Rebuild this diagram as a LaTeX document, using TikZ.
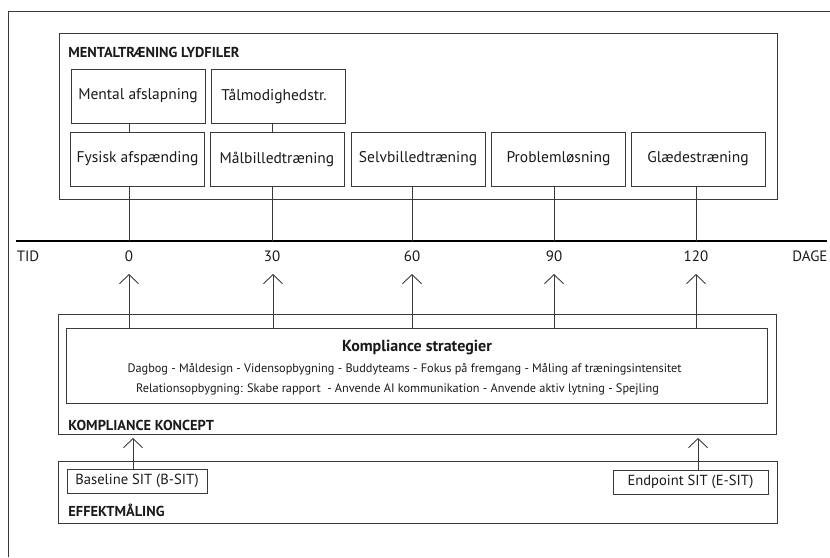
\documentclass[tikz,border=0pt]{standalone}
\usepackage{fontspec}
\setmainfont{PT Sans}
\usetikzlibrary{arrows.meta}

\definecolor{linegray}{HTML}{3A3A3A}
\definecolor{textgray}{HTML}{1A1A1A}

\def \boxW{134}
\def \boxH{54}
\def \rowAY{96}
\def \rowBY{159}
\def \timeY{241}
\def \labelY{256}
\def \arrowTopY{274}
\def \dayAX{129}
\def \dayBX{272}
\def \dayCX{412}
\def \dayDX{554}
\def \dayEX{696}

\begin{document}
\begin{tikzpicture}[x=1pt, y=-1pt, line width=0.9pt, draw=linegray, text=textgray,
  trainbox/.style={draw=linegray, minimum width=\boxW, minimum height=\boxH, inner sep=0pt, font=\fontsize{15.5}{17}\selectfont},
  frame/.style={draw=linegray, inner sep=0pt},
  heading/.style={anchor=west, inner sep=0pt, font=\bfseries\fontsize{14.4}{16}\selectfont},
  sitbox/.style={draw=linegray, inner sep=0pt, minimum height=24, font=\fontsize{14.6}{16}\selectfont},
  daylabel/.style={inner sep=0pt, font=\fontsize{15}{17}\selectfont},
  uparrow/.style={-{Straight Barb[length=9pt, width=19pt]}}]
\useasboundingbox (0,0) rectangle (830,557);
% ---- outer frame
\coordinate (frameTL) at (8,11);
\draw (8,557) -- (frameTL) -- (830,11);

% ---- Mentaltraening frame
\node[frame, minimum width=718, minimum height=166] (mentalframe) at (418,116) {};
\node[heading] (mentalhead) at (68,52) {MENTALTRÆNING LYDFILER};
% ---- upper row
\node[trainbox] (mental) at (138,\rowAY) {Mental afslapning};
\node[trainbox] (taalmod) at (278,\rowAY) {\hspace*{-8pt}Tålmodighedstr.};
% ---- lower row
\node[trainbox] (fysisk) at (137.5,\rowBY) {Fysisk afspænding};
\node[trainbox] (maal) at (277,\rowBY) {Målbilledtræning};
\node[trainbox] (selv) at (418,\rowBY) {Selvbilledtræning};
\node[trainbox] (problem) at (558.5,\rowBY) {Problemløsning};
\node[trainbox] (glaede) at (698,\rowBY) {Glædestræning};

% ---- time line
\coordinate (timeL) at (16,\timeY);
\coordinate (timeR) at (827,\timeY);
\draw[line width=2.8pt, draw=black] (timeL) -- (timeR);
\node[daylabel] (tid) at (28,\labelY) {TID};
\node[daylabel, anchor=west] (dage) at (792,\labelY) {DAGE};
\node[daylabel] (day0) at (\dayAX,\labelY) {0};
\node[daylabel] (day30) at (\dayBX,\labelY) {30};
\node[daylabel] (day60) at (\dayCX,\labelY) {60};
\node[daylabel] (day90) at (\dayDX,\labelY) {90};
\node[daylabel] (day120) at (\dayEX,\labelY) {120};
\coordinate (tick0) at (\dayAX,\timeY);
\coordinate (tick30) at (\dayBX,\timeY);
\coordinate (tick60) at (\dayCX,\timeY);
\coordinate (tick90) at (\dayDX,\timeY);
\coordinate (tick120) at (\dayEX,\timeY);

% ---- box to time line
\draw (mental.south -| tick0) -- (fysisk.north -| tick0);
\draw (taalmod.south -| tick30) -- (maal.north -| tick30);
\draw (fysisk.south -| tick0) -- (tick0);
\draw (maal.south -| tick30) -- (tick30);
\draw (selv.south -| tick60) -- (tick60);
\draw (problem.south -| tick90) -- (tick90);
\draw (glaede.south -| tick120) -- (tick120);

% ---- Kompliance frame
\node[frame, minimum width=718, minimum height=120] (kompframe) at (417,374) {};
\node[frame, minimum width=701, minimum height=75] (strat) at (416.5,365.5) {};
\node[inner sep=0pt, font=\bfseries\fontsize{16}{18}\selectfont] (strattitle) at (417,348) {Kompliance strategier};
\node[inner sep=0pt, font=\fontsize{12.3}{14}\selectfont] (stratA) at (404.5,369) {Dagbog - Måldesign - Vidensopbygning - Buddyteams - Fokus på fremgang - Måling af træningsintensitet};
\node[inner sep=0pt, font=\fontsize{12.3}{14}\selectfont] (stratB) at (397.5,389) {Relationsopbygning: Skabe rapport \ - Anvende AI kommunikation - Anvende aktiv lytning - Spejling};
\node[heading] (komphead) at (68,425) {KOMPLIANCE KONCEPT};

% ---- arrows up to time line
\coordinate (arr0) at (\dayAX,\arrowTopY);
\coordinate (arr30) at (\dayBX+1,\arrowTopY);
\coordinate (arr60) at (\dayCX,\arrowTopY);
\coordinate (arr90) at (\dayDX,\arrowTopY);
\coordinate (arr120) at (\dayEX,\arrowTopY);
\draw[uparrow] (strat.north -| arr0) -- (arr0);
\draw[uparrow] (strat.north -| arr30) -- (arr30);
\draw[uparrow] (strat.north -| arr60) -- (arr60);
\draw[uparrow] (strat.north -| arr90) -- (arr90);
\draw[uparrow] (strat.north -| arr120) -- (arr120);

% ---- Effektmaaling frame
\node[frame, minimum width=719, minimum height=62] (effektframe) at (417.5,492) {};
\node[sitbox, minimum width=140] (baseline) at (137,481) {Baseline SIT (B-SIT)};
\node[sitbox, minimum width=155] (endpoint) at (690.5,482) {Endpoint SIT (E-SIT)};
\node[heading] (effekthead) at (68,510) {EFFEKTMÅLING};
\coordinate (arrB) at (133,438);
\coordinate (arrE) at (698,438);
\draw[uparrow] (baseline.north -| arrB) -- (arrB);
\draw[uparrow] (endpoint.north -| arrE) -- (arrE);
\end{tikzpicture}
\end{document}
